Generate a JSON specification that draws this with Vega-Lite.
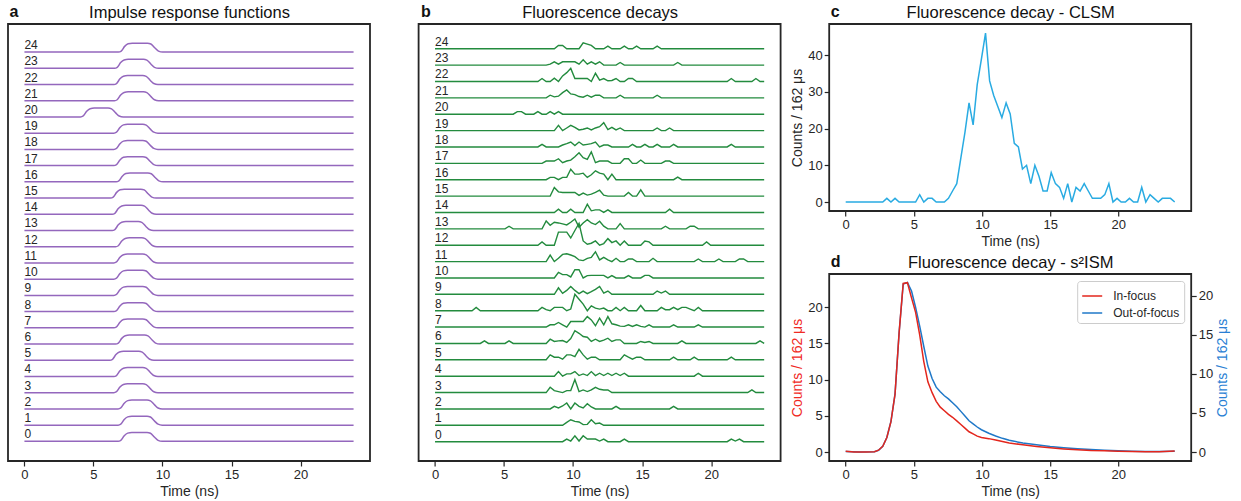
{
"$schema": "https://vega.github.io/schema/vega-lite/v6.json",
"padding": {"left": 7, "top": 3, "right": 5, "bottom": 5},
"config": {
  "font": "Liberation Sans",
  "view": {"stroke": "#262626", "strokeWidth": 1.8},
  "axis": {"grid": false, "domain": false, "tickColor": "#262626", "tickSize": 5, "tickWidth": 1.2, "labelColor": "#262626", "labelFontSize": 13, "labelPadding": 2, "titleColor": "#262626", "titleFontSize": 14, "titleFontWeight": "normal", "titlePadding": 3},
  "title": {"color": "#111111", "fontSize": 16, "fontWeight": "bold"},
  "legend": {"title": null, "orient": "top-right", "offset": 7, "padding": 4, "strokeColor": "#cccccc", "fillColor": "white", "cornerRadius": 3, "symbolType": "stroke", "symbolSize": 400, "symbolStrokeWidth": 1.5, "labelFontSize": 12, "labelColor": "#262626", "labelOffset": 10, "rowPadding": 0}
},
"datasets": {
"labels": [{"c":0,"t":0},{"c":1,"t":0},{"c":2,"t":0},{"c":3,"t":0},{"c":4,"t":0},{"c":5,"t":0},{"c":6,"t":0},{"c":7,"t":0},{"c":8,"t":0},{"c":9,"t":0},{"c":10,"t":0},{"c":11,"t":0},{"c":12,"t":0},{"c":13,"t":0},{"c":14,"t":0},{"c":15,"t":0},{"c":16,"t":0},{"c":17,"t":0},{"c":18,"t":0},{"c":19,"t":0},{"c":20,"t":0},{"c":21,"t":0},{"c":22,"t":0},{"c":23,"t":0},{"c":24,"t":0}],
"irf": [
{"c":24,"t":0,"y":24},{"c":24,"t":6.81,"y":24},{"c":24,"t":7.01,"y":24.06},{"c":24,"t":7.26,"y":24.35},{"c":24,"t":7.51,"y":24.51},{"c":24,"t":7.81,"y":24.55},{"c":24,"t":8.91,"y":24.55},{"c":24,"t":9.16,"y":24.5},{"c":24,"t":9.46,"y":24.25},{"c":24,"t":9.71,"y":24.06},{"c":24,"t":10.01,"y":24},{"c":24,"t":23.84,"y":24},
{"c":23,"t":0,"y":23},{"c":23,"t":6.52,"y":23},{"c":23,"t":6.72,"y":23.06},{"c":23,"t":6.97,"y":23.35},{"c":23,"t":7.22,"y":23.51},{"c":23,"t":7.52,"y":23.55},{"c":23,"t":8.62,"y":23.55},{"c":23,"t":8.87,"y":23.5},{"c":23,"t":9.17,"y":23.25},{"c":23,"t":9.42,"y":23.06},{"c":23,"t":9.72,"y":23},{"c":23,"t":23.84,"y":23},
{"c":22,"t":0,"y":22},{"c":22,"t":6.47,"y":22},{"c":22,"t":6.67,"y":22.06},{"c":22,"t":6.92,"y":22.35},{"c":22,"t":7.17,"y":22.51},{"c":22,"t":7.47,"y":22.55},{"c":22,"t":8.57,"y":22.55},{"c":22,"t":8.82,"y":22.5},{"c":22,"t":9.12,"y":22.25},{"c":22,"t":9.37,"y":22.06},{"c":22,"t":9.67,"y":22},{"c":22,"t":23.84,"y":22},
{"c":21,"t":0,"y":21},{"c":21,"t":6.52,"y":21},{"c":21,"t":6.72,"y":21.06},{"c":21,"t":6.97,"y":21.35},{"c":21,"t":7.22,"y":21.51},{"c":21,"t":7.52,"y":21.55},{"c":21,"t":8.62,"y":21.55},{"c":21,"t":8.87,"y":21.5},{"c":21,"t":9.17,"y":21.25},{"c":21,"t":9.42,"y":21.06},{"c":21,"t":9.72,"y":21},{"c":21,"t":23.84,"y":21},
{"c":20,"t":0,"y":20},{"c":20,"t":4.06,"y":20},{"c":20,"t":4.26,"y":20.06},{"c":20,"t":4.51,"y":20.35},{"c":20,"t":4.76,"y":20.51},{"c":20,"t":5.06,"y":20.55},{"c":20,"t":6.06,"y":20.55},{"c":20,"t":6.31,"y":20.5},{"c":20,"t":6.61,"y":20.25},{"c":20,"t":6.86,"y":20.06},{"c":20,"t":7.16,"y":20},{"c":20,"t":23.84,"y":20},
{"c":19,"t":0,"y":19},{"c":19,"t":6.47,"y":19},{"c":19,"t":6.67,"y":19.06},{"c":19,"t":6.92,"y":19.35},{"c":19,"t":7.17,"y":19.51},{"c":19,"t":7.47,"y":19.55},{"c":19,"t":8.57,"y":19.55},{"c":19,"t":8.82,"y":19.5},{"c":19,"t":9.12,"y":19.25},{"c":19,"t":9.37,"y":19.06},{"c":19,"t":9.67,"y":19},{"c":19,"t":23.84,"y":19},
{"c":18,"t":0,"y":18},{"c":18,"t":6.47,"y":18},{"c":18,"t":6.67,"y":18.06},{"c":18,"t":6.92,"y":18.35},{"c":18,"t":7.17,"y":18.51},{"c":18,"t":7.47,"y":18.55},{"c":18,"t":8.57,"y":18.55},{"c":18,"t":8.82,"y":18.5},{"c":18,"t":9.12,"y":18.25},{"c":18,"t":9.37,"y":18.06},{"c":18,"t":9.67,"y":18},{"c":18,"t":23.84,"y":18},
{"c":17,"t":0,"y":17},{"c":17,"t":6.47,"y":17},{"c":17,"t":6.67,"y":17.06},{"c":17,"t":6.92,"y":17.35},{"c":17,"t":7.17,"y":17.51},{"c":17,"t":7.47,"y":17.55},{"c":17,"t":8.57,"y":17.55},{"c":17,"t":8.82,"y":17.5},{"c":17,"t":9.12,"y":17.25},{"c":17,"t":9.37,"y":17.06},{"c":17,"t":9.67,"y":17},{"c":17,"t":23.84,"y":17},
{"c":16,"t":0,"y":16},{"c":16,"t":6.64,"y":16},{"c":16,"t":6.84,"y":16.06},{"c":16,"t":7.09,"y":16.35},{"c":16,"t":7.34,"y":16.51},{"c":16,"t":7.64,"y":16.55},{"c":16,"t":8.94,"y":16.55},{"c":16,"t":9.19,"y":16.5},{"c":16,"t":9.49,"y":16.25},{"c":16,"t":9.74,"y":16.06},{"c":16,"t":10.04,"y":16},{"c":16,"t":23.84,"y":16},
{"c":15,"t":0,"y":15},{"c":15,"t":6.23,"y":15},{"c":15,"t":6.43,"y":15.06},{"c":15,"t":6.68,"y":15.35},{"c":15,"t":6.93,"y":15.51},{"c":15,"t":7.23,"y":15.55},{"c":15,"t":8.43,"y":15.55},{"c":15,"t":8.68,"y":15.5},{"c":15,"t":8.98,"y":15.25},{"c":15,"t":9.23,"y":15.06},{"c":15,"t":9.53,"y":15},{"c":15,"t":23.84,"y":15},
{"c":14,"t":0,"y":14},{"c":14,"t":6.35,"y":14},{"c":14,"t":6.55,"y":14.06},{"c":14,"t":6.8,"y":14.35},{"c":14,"t":7.05,"y":14.51},{"c":14,"t":7.35,"y":14.55},{"c":14,"t":8.45,"y":14.55},{"c":14,"t":8.7,"y":14.5},{"c":14,"t":9.0,"y":14.25},{"c":14,"t":9.25,"y":14.06},{"c":14,"t":9.55,"y":14},{"c":14,"t":23.84,"y":14},
{"c":13,"t":0,"y":13},{"c":13,"t":6.35,"y":13},{"c":13,"t":6.55,"y":13.06},{"c":13,"t":6.8,"y":13.35},{"c":13,"t":7.05,"y":13.51},{"c":13,"t":7.35,"y":13.55},{"c":13,"t":8.25,"y":13.55},{"c":13,"t":8.5,"y":13.5},{"c":13,"t":8.8,"y":13.25},{"c":13,"t":9.05,"y":13.06},{"c":13,"t":9.35,"y":13},{"c":13,"t":23.84,"y":13},
{"c":12,"t":0,"y":12},{"c":12,"t":6.6,"y":12},{"c":12,"t":6.8,"y":12.06},{"c":12,"t":7.05,"y":12.35},{"c":12,"t":7.3,"y":12.51},{"c":12,"t":7.6,"y":12.55},{"c":12,"t":8.5,"y":12.55},{"c":12,"t":8.75,"y":12.5},{"c":12,"t":9.05,"y":12.25},{"c":12,"t":9.3,"y":12.06},{"c":12,"t":9.6,"y":12},{"c":12,"t":23.84,"y":12},
{"c":11,"t":0,"y":11},{"c":11,"t":6.47,"y":11},{"c":11,"t":6.67,"y":11.06},{"c":11,"t":6.92,"y":11.35},{"c":11,"t":7.17,"y":11.51},{"c":11,"t":7.47,"y":11.55},{"c":11,"t":8.57,"y":11.55},{"c":11,"t":8.82,"y":11.5},{"c":11,"t":9.12,"y":11.25},{"c":11,"t":9.37,"y":11.06},{"c":11,"t":9.67,"y":11},{"c":11,"t":23.84,"y":11},
{"c":10,"t":0,"y":10},{"c":10,"t":6.47,"y":10},{"c":10,"t":6.67,"y":10.06},{"c":10,"t":6.92,"y":10.35},{"c":10,"t":7.17,"y":10.51},{"c":10,"t":7.47,"y":10.55},{"c":10,"t":8.57,"y":10.55},{"c":10,"t":8.82,"y":10.5},{"c":10,"t":9.12,"y":10.25},{"c":10,"t":9.37,"y":10.06},{"c":10,"t":9.67,"y":10},{"c":10,"t":23.84,"y":10},
{"c":9,"t":0,"y":9},{"c":9,"t":6.47,"y":9},{"c":9,"t":6.67,"y":9.06},{"c":9,"t":6.92,"y":9.35},{"c":9,"t":7.17,"y":9.51},{"c":9,"t":7.47,"y":9.55},{"c":9,"t":8.57,"y":9.55},{"c":9,"t":8.82,"y":9.5},{"c":9,"t":9.12,"y":9.25},{"c":9,"t":9.37,"y":9.06},{"c":9,"t":9.67,"y":9},{"c":9,"t":23.84,"y":9},
{"c":8,"t":0,"y":8},{"c":8,"t":6.47,"y":8},{"c":8,"t":6.67,"y":8.06},{"c":8,"t":6.92,"y":8.35},{"c":8,"t":7.17,"y":8.51},{"c":8,"t":7.47,"y":8.55},{"c":8,"t":8.57,"y":8.55},{"c":8,"t":8.82,"y":8.5},{"c":8,"t":9.12,"y":8.25},{"c":8,"t":9.37,"y":8.06},{"c":8,"t":9.67,"y":8},{"c":8,"t":23.84,"y":8},
{"c":7,"t":0,"y":7},{"c":7,"t":6.47,"y":7},{"c":7,"t":6.67,"y":7.06},{"c":7,"t":6.92,"y":7.35},{"c":7,"t":7.17,"y":7.51},{"c":7,"t":7.47,"y":7.55},{"c":7,"t":8.57,"y":7.55},{"c":7,"t":8.82,"y":7.5},{"c":7,"t":9.12,"y":7.25},{"c":7,"t":9.37,"y":7.06},{"c":7,"t":9.67,"y":7},{"c":7,"t":23.84,"y":7},
{"c":6,"t":0,"y":6},{"c":6,"t":6.6,"y":6},{"c":6,"t":6.8,"y":6.06},{"c":6,"t":7.05,"y":6.35},{"c":6,"t":7.3,"y":6.51},{"c":6,"t":7.6,"y":6.55},{"c":6,"t":8.7,"y":6.55},{"c":6,"t":8.95,"y":6.5},{"c":6,"t":9.25,"y":6.25},{"c":6,"t":9.5,"y":6.06},{"c":6,"t":9.8,"y":6},{"c":6,"t":23.84,"y":6},
{"c":5,"t":0,"y":5},{"c":5,"t":6.18,"y":5},{"c":5,"t":6.38,"y":5.06},{"c":5,"t":6.63,"y":5.35},{"c":5,"t":6.88,"y":5.51},{"c":5,"t":7.18,"y":5.55},{"c":5,"t":8.28,"y":5.55},{"c":5,"t":8.53,"y":5.5},{"c":5,"t":8.83,"y":5.25},{"c":5,"t":9.08,"y":5.06},{"c":5,"t":9.38,"y":5},{"c":5,"t":23.84,"y":5},
{"c":4,"t":0,"y":4},{"c":4,"t":6.47,"y":4},{"c":4,"t":6.67,"y":4.06},{"c":4,"t":6.92,"y":4.35},{"c":4,"t":7.17,"y":4.51},{"c":4,"t":7.47,"y":4.55},{"c":4,"t":8.57,"y":4.55},{"c":4,"t":8.82,"y":4.5},{"c":4,"t":9.12,"y":4.25},{"c":4,"t":9.37,"y":4.06},{"c":4,"t":9.67,"y":4},{"c":4,"t":23.84,"y":4},
{"c":3,"t":0,"y":3},{"c":3,"t":6.47,"y":3},{"c":3,"t":6.67,"y":3.06},{"c":3,"t":6.92,"y":3.35},{"c":3,"t":7.17,"y":3.51},{"c":3,"t":7.47,"y":3.55},{"c":3,"t":8.57,"y":3.55},{"c":3,"t":8.82,"y":3.5},{"c":3,"t":9.12,"y":3.25},{"c":3,"t":9.37,"y":3.06},{"c":3,"t":9.67,"y":3},{"c":3,"t":23.84,"y":3},
{"c":2,"t":0,"y":2},{"c":2,"t":6.78,"y":2},{"c":2,"t":6.98,"y":2.06},{"c":2,"t":7.23,"y":2.35},{"c":2,"t":7.48,"y":2.51},{"c":2,"t":7.78,"y":2.55},{"c":2,"t":8.88,"y":2.55},{"c":2,"t":9.13,"y":2.5},{"c":2,"t":9.43,"y":2.25},{"c":2,"t":9.68,"y":2.06},{"c":2,"t":9.98,"y":2},{"c":2,"t":23.84,"y":2},
{"c":1,"t":0,"y":1},{"c":1,"t":6.78,"y":1},{"c":1,"t":6.98,"y":1.06},{"c":1,"t":7.23,"y":1.35},{"c":1,"t":7.48,"y":1.51},{"c":1,"t":7.78,"y":1.55},{"c":1,"t":8.88,"y":1.55},{"c":1,"t":9.13,"y":1.5},{"c":1,"t":9.43,"y":1.25},{"c":1,"t":9.68,"y":1.06},{"c":1,"t":9.98,"y":1},{"c":1,"t":23.84,"y":1},
{"c":0,"t":0,"y":0},{"c":0,"t":6.78,"y":0},{"c":0,"t":6.98,"y":0.06},{"c":0,"t":7.23,"y":0.35},{"c":0,"t":7.48,"y":0.51},{"c":0,"t":7.78,"y":0.55},{"c":0,"t":8.88,"y":0.55},{"c":0,"t":9.13,"y":0.5},{"c":0,"t":9.43,"y":0.25},{"c":0,"t":9.68,"y":0.06},{"c":0,"t":9.98,"y":0},{"c":0,"t":23.84,"y":0}
],
"decays": [
{"c":24,"t":0,"y":24},{"c":24,"t":8.64,"y":24},{"c":24,"t":8.94,"y":24.2},{"c":24,"t":9.24,"y":24.2},{"c":24,"t":9.54,"y":24},{"c":24,"t":10.43,"y":24},{"c":24,"t":10.73,"y":24.36},{"c":24,"t":11.03,"y":24.28},{"c":24,"t":11.32,"y":24.2},{"c":24,"t":11.62,"y":24},{"c":24,"t":12.22,"y":24},{"c":24,"t":12.52,"y":24.16},{"c":24,"t":12.81,"y":24},{"c":24,"t":13.41,"y":24},{"c":24,"t":13.71,"y":24.16},{"c":24,"t":14.01,"y":24},{"c":24,"t":14.3,"y":24},{"c":24,"t":14.6,"y":24.16},{"c":24,"t":14.9,"y":24},{"c":24,"t":15.79,"y":24},{"c":24,"t":16.09,"y":24.16},{"c":24,"t":16.39,"y":24},{"c":24,"t":23.84,"y":24},
{"c":23,"t":0,"y":23},{"c":23,"t":8.05,"y":23},{"c":23,"t":8.34,"y":23.06},{"c":23,"t":8.64,"y":23.2},{"c":23,"t":8.94,"y":23.06},{"c":23,"t":9.24,"y":23.2},{"c":23,"t":9.54,"y":23.2},{"c":23,"t":9.83,"y":23.2},{"c":23,"t":10.13,"y":23.2},{"c":23,"t":10.43,"y":23.06},{"c":23,"t":10.73,"y":23.32},{"c":23,"t":11.03,"y":23.06},{"c":23,"t":11.32,"y":23.2},{"c":23,"t":11.62,"y":23.06},{"c":23,"t":11.92,"y":23.2},{"c":23,"t":12.22,"y":23},{"c":23,"t":13.11,"y":23},{"c":23,"t":13.41,"y":23.16},{"c":23,"t":13.71,"y":23},{"c":23,"t":17.28,"y":23},{"c":23,"t":17.58,"y":23.16},{"c":23,"t":17.88,"y":23},{"c":23,"t":23.84,"y":23},
{"c":22,"t":0,"y":22},{"c":22,"t":7.45,"y":22},{"c":22,"t":7.75,"y":22.18},{"c":22,"t":8.05,"y":22},{"c":22,"t":8.34,"y":22},{"c":22,"t":8.64,"y":22.2},{"c":22,"t":8.94,"y":22},{"c":22,"t":9.24,"y":22.34},{"c":22,"t":9.54,"y":22.54},{"c":22,"t":9.83,"y":22.8},{"c":22,"t":10.13,"y":22.18},{"c":22,"t":10.43,"y":22.18},{"c":22,"t":10.73,"y":22.18},{"c":22,"t":11.03,"y":22.18},{"c":22,"t":11.32,"y":22},{"c":22,"t":11.62,"y":22.5},{"c":22,"t":11.92,"y":22.08},{"c":22,"t":12.22,"y":22.18},{"c":22,"t":12.52,"y":22.04},{"c":22,"t":12.81,"y":22.06},{"c":22,"t":13.11,"y":22.18},{"c":22,"t":13.41,"y":22},{"c":22,"t":13.71,"y":22},{"c":22,"t":14.01,"y":22.18},{"c":22,"t":14.3,"y":22.18},{"c":22,"t":14.6,"y":22},{"c":22,"t":21.16,"y":22},{"c":22,"t":21.46,"y":22.18},{"c":22,"t":21.75,"y":22},{"c":22,"t":22.95,"y":22},{"c":22,"t":23.24,"y":22.18},{"c":22,"t":23.54,"y":22},{"c":22,"t":23.84,"y":22},
{"c":21,"t":0,"y":21},{"c":21,"t":8.05,"y":21},{"c":21,"t":8.34,"y":21.16},{"c":21,"t":8.64,"y":21.06},{"c":21,"t":8.94,"y":21.1},{"c":21,"t":9.24,"y":21.32},{"c":21,"t":9.54,"y":21.48},{"c":21,"t":9.83,"y":21.24},{"c":21,"t":10.13,"y":21.2},{"c":21,"t":10.43,"y":21.08},{"c":21,"t":10.73,"y":21.04},{"c":21,"t":11.03,"y":21.16},{"c":21,"t":11.32,"y":21.04},{"c":21,"t":11.62,"y":21.16},{"c":21,"t":11.92,"y":21.16},{"c":21,"t":12.22,"y":21},{"c":21,"t":13.11,"y":21},{"c":21,"t":13.41,"y":21.16},{"c":21,"t":13.71,"y":21},{"c":21,"t":15.79,"y":21},{"c":21,"t":16.09,"y":21.16},{"c":21,"t":16.39,"y":21},{"c":21,"t":23.84,"y":21},
{"c":20,"t":0,"y":20},{"c":20,"t":5.66,"y":20},{"c":20,"t":5.96,"y":20.16},{"c":20,"t":6.26,"y":20.16},{"c":20,"t":6.56,"y":20},{"c":20,"t":7.15,"y":20},{"c":20,"t":7.45,"y":20.16},{"c":20,"t":7.75,"y":20},{"c":20,"t":8.05,"y":20},{"c":20,"t":8.34,"y":20.16},{"c":20,"t":8.64,"y":20},{"c":20,"t":8.94,"y":20.16},{"c":20,"t":9.24,"y":20},{"c":20,"t":23.84,"y":20},
{"c":19,"t":0,"y":19},{"c":19,"t":8.64,"y":19},{"c":19,"t":8.94,"y":19.32},{"c":19,"t":9.24,"y":19},{"c":19,"t":9.54,"y":19.16},{"c":19,"t":9.83,"y":19.32},{"c":19,"t":10.13,"y":19.2},{"c":19,"t":10.43,"y":19.04},{"c":19,"t":10.73,"y":19.08},{"c":19,"t":11.03,"y":19.16},{"c":19,"t":11.32,"y":19.04},{"c":19,"t":11.62,"y":19.16},{"c":19,"t":11.92,"y":19.24},{"c":19,"t":12.22,"y":19.48},{"c":19,"t":12.52,"y":19.06},{"c":19,"t":12.81,"y":19.2},{"c":19,"t":13.11,"y":19.04},{"c":19,"t":13.41,"y":19.16},{"c":19,"t":13.71,"y":19},{"c":19,"t":15.79,"y":19},{"c":19,"t":16.09,"y":19.16},{"c":19,"t":16.39,"y":19},{"c":19,"t":16.69,"y":19},{"c":19,"t":16.99,"y":19.16},{"c":19,"t":17.28,"y":19},{"c":19,"t":23.84,"y":19},
{"c":18,"t":0,"y":18},{"c":18,"t":7.45,"y":18},{"c":18,"t":7.75,"y":18.16},{"c":18,"t":8.05,"y":18},{"c":18,"t":8.94,"y":18},{"c":18,"t":9.24,"y":18.12},{"c":18,"t":9.54,"y":18.2},{"c":18,"t":9.83,"y":18.3},{"c":18,"t":10.13,"y":18.08},{"c":18,"t":10.43,"y":18.3},{"c":18,"t":10.73,"y":18.12},{"c":18,"t":11.03,"y":18.16},{"c":18,"t":11.32,"y":18.2},{"c":18,"t":11.62,"y":18.3},{"c":18,"t":11.92,"y":18},{"c":18,"t":12.22,"y":18.12},{"c":18,"t":12.52,"y":18.12},{"c":18,"t":12.81,"y":18},{"c":18,"t":14.01,"y":18},{"c":18,"t":14.3,"y":18.16},{"c":18,"t":14.6,"y":18},{"c":18,"t":14.9,"y":18},{"c":18,"t":15.2,"y":18.16},{"c":18,"t":15.5,"y":18},{"c":18,"t":15.79,"y":18},{"c":18,"t":16.09,"y":18.16},{"c":18,"t":16.39,"y":18},{"c":18,"t":16.99,"y":18},{"c":18,"t":17.28,"y":18.16},{"c":18,"t":17.58,"y":18},{"c":18,"t":21.16,"y":18},{"c":18,"t":21.46,"y":18.16},{"c":18,"t":21.75,"y":18},{"c":18,"t":23.84,"y":18},
{"c":17,"t":0,"y":17},{"c":17,"t":7.75,"y":17},{"c":17,"t":8.05,"y":17.14},{"c":17,"t":8.34,"y":17.14},{"c":17,"t":8.64,"y":17.14},{"c":17,"t":8.94,"y":17.28},{"c":17,"t":9.24,"y":17.04},{"c":17,"t":9.54,"y":17.14},{"c":17,"t":9.83,"y":17.2},{"c":17,"t":10.13,"y":17.4},{"c":17,"t":10.43,"y":17.64},{"c":17,"t":10.73,"y":17.34},{"c":17,"t":11.03,"y":17.24},{"c":17,"t":11.32,"y":17.7},{"c":17,"t":11.62,"y":17.04},{"c":17,"t":11.92,"y":17.14},{"c":17,"t":12.22,"y":17.14},{"c":17,"t":12.52,"y":17.14},{"c":17,"t":12.81,"y":17},{"c":17,"t":13.41,"y":17},{"c":17,"t":13.71,"y":17.28},{"c":17,"t":14.01,"y":17.28},{"c":17,"t":14.3,"y":17},{"c":17,"t":14.6,"y":17},{"c":17,"t":14.9,"y":17.2},{"c":17,"t":15.2,"y":17},{"c":17,"t":16.39,"y":17},{"c":17,"t":16.69,"y":17.14},{"c":17,"t":16.99,"y":17.14},{"c":17,"t":17.28,"y":17},{"c":17,"t":23.84,"y":17},
{"c":16,"t":0,"y":16},{"c":16,"t":8.05,"y":16},{"c":16,"t":8.34,"y":16.14},{"c":16,"t":8.64,"y":16.14},{"c":16,"t":8.94,"y":16},{"c":16,"t":9.24,"y":16.14},{"c":16,"t":9.54,"y":16.14},{"c":16,"t":9.83,"y":16.64},{"c":16,"t":10.13,"y":16.34},{"c":16,"t":10.43,"y":16.34},{"c":16,"t":10.73,"y":16.4},{"c":16,"t":11.03,"y":16.14},{"c":16,"t":11.32,"y":16.3},{"c":16,"t":11.62,"y":16.54},{"c":16,"t":11.92,"y":16.4},{"c":16,"t":12.22,"y":16.34},{"c":16,"t":12.52,"y":16},{"c":16,"t":12.81,"y":16.34},{"c":16,"t":13.11,"y":16},{"c":16,"t":17.28,"y":16},{"c":16,"t":17.58,"y":16.16},{"c":16,"t":17.88,"y":16},{"c":16,"t":23.84,"y":16},
{"c":15,"t":0,"y":15},{"c":15,"t":8.34,"y":15},{"c":15,"t":8.64,"y":15.52},{"c":15,"t":8.94,"y":15.26},{"c":15,"t":9.24,"y":15.22},{"c":15,"t":9.54,"y":15.22},{"c":15,"t":9.83,"y":15.22},{"c":15,"t":10.13,"y":15.22},{"c":15,"t":10.43,"y":15.04},{"c":15,"t":10.73,"y":15.18},{"c":15,"t":11.03,"y":15.06},{"c":15,"t":11.32,"y":15.12},{"c":15,"t":11.62,"y":15.22},{"c":15,"t":11.92,"y":15.36},{"c":15,"t":12.22,"y":15.06},{"c":15,"t":12.52,"y":15},{"c":15,"t":13.71,"y":15},{"c":15,"t":14.01,"y":15.22},{"c":15,"t":14.3,"y":15},{"c":15,"t":14.6,"y":15},{"c":15,"t":14.9,"y":15.38},{"c":15,"t":15.2,"y":15},{"c":15,"t":23.84,"y":15},
{"c":14,"t":0,"y":14},{"c":14,"t":8.64,"y":14},{"c":14,"t":8.94,"y":14.2},{"c":14,"t":9.24,"y":14},{"c":14,"t":9.54,"y":14},{"c":14,"t":9.83,"y":14.2},{"c":14,"t":10.13,"y":14},{"c":14,"t":10.73,"y":14},{"c":14,"t":11.03,"y":14.5},{"c":14,"t":11.32,"y":14.1},{"c":14,"t":11.62,"y":14.16},{"c":14,"t":11.92,"y":14.16},{"c":14,"t":12.22,"y":14},{"c":14,"t":12.52,"y":14.16},{"c":14,"t":12.81,"y":14},{"c":14,"t":16.69,"y":14},{"c":14,"t":16.99,"y":14.2},{"c":14,"t":17.28,"y":14},{"c":14,"t":23.84,"y":14},
{"c":13,"t":0,"y":13},{"c":13,"t":5.07,"y":13},{"c":13,"t":5.36,"y":13.16},{"c":13,"t":5.66,"y":13},{"c":13,"t":7.75,"y":13},{"c":13,"t":8.05,"y":13.48},{"c":13,"t":8.34,"y":13.22},{"c":13,"t":8.64,"y":13.4},{"c":13,"t":8.94,"y":13.36},{"c":13,"t":9.24,"y":13.3},{"c":13,"t":9.54,"y":13.24},{"c":13,"t":9.83,"y":13.4},{"c":13,"t":10.13,"y":13.6},{"c":13,"t":10.43,"y":13.1},{"c":13,"t":10.73,"y":13.36},{"c":13,"t":11.03,"y":13.56},{"c":13,"t":11.32,"y":13.36},{"c":13,"t":11.62,"y":13.26},{"c":13,"t":11.92,"y":13.46},{"c":13,"t":12.22,"y":13.16},{"c":13,"t":12.52,"y":13},{"c":13,"t":13.11,"y":13},{"c":13,"t":13.41,"y":13.32},{"c":13,"t":13.71,"y":13},{"c":13,"t":16.39,"y":13},{"c":13,"t":16.69,"y":13.16},{"c":13,"t":16.99,"y":13},{"c":13,"t":18.18,"y":13},{"c":13,"t":18.48,"y":13.16},{"c":13,"t":18.77,"y":13.16},{"c":13,"t":19.07,"y":13},{"c":13,"t":23.84,"y":13},
{"c":12,"t":0,"y":12},{"c":12,"t":7.45,"y":12},{"c":12,"t":7.75,"y":12.2},{"c":12,"t":8.05,"y":12},{"c":12,"t":8.64,"y":12},{"c":12,"t":8.94,"y":12.8},{"c":12,"t":9.24,"y":12.8},{"c":12,"t":9.54,"y":12.8},{"c":12,"t":9.83,"y":12.44},{"c":12,"t":10.13,"y":12.9},{"c":12,"t":10.43,"y":13.34},{"c":12,"t":10.73,"y":12.26},{"c":12,"t":11.03,"y":12.06},{"c":12,"t":11.32,"y":12.12},{"c":12,"t":11.62,"y":12.26},{"c":12,"t":11.92,"y":12},{"c":12,"t":12.22,"y":12.1},{"c":12,"t":12.52,"y":12.4},{"c":12,"t":12.81,"y":12.16},{"c":12,"t":13.11,"y":12.26},{"c":12,"t":13.41,"y":12},{"c":12,"t":13.71,"y":12.26},{"c":12,"t":14.01,"y":12},{"c":12,"t":14.9,"y":12},{"c":12,"t":15.2,"y":12.26},{"c":12,"t":15.5,"y":12.2},{"c":12,"t":15.79,"y":12},{"c":12,"t":19.37,"y":12},{"c":12,"t":19.67,"y":12.2},{"c":12,"t":19.97,"y":12},{"c":12,"t":23.84,"y":12},
{"c":11,"t":0,"y":11},{"c":11,"t":8.05,"y":11},{"c":11,"t":8.34,"y":11.4},{"c":11,"t":8.64,"y":11},{"c":11,"t":8.94,"y":11.2},{"c":11,"t":9.24,"y":11.44},{"c":11,"t":9.54,"y":11.48},{"c":11,"t":9.83,"y":11.4},{"c":11,"t":10.13,"y":11.3},{"c":11,"t":10.43,"y":11.1},{"c":11,"t":10.73,"y":11.06},{"c":11,"t":11.03,"y":11.2},{"c":11,"t":11.32,"y":11.26},{"c":11,"t":11.62,"y":11.6},{"c":11,"t":11.92,"y":11.1},{"c":11,"t":12.22,"y":11.26},{"c":11,"t":12.52,"y":11.1},{"c":11,"t":12.81,"y":11},{"c":11,"t":13.11,"y":11.2},{"c":11,"t":13.41,"y":11},{"c":11,"t":13.71,"y":11},{"c":11,"t":14.01,"y":11.16},{"c":11,"t":14.3,"y":11.16},{"c":11,"t":14.6,"y":11},{"c":11,"t":15.5,"y":11},{"c":11,"t":15.79,"y":11.2},{"c":11,"t":16.09,"y":11},{"c":11,"t":18.77,"y":11},{"c":11,"t":19.07,"y":11.16},{"c":11,"t":19.37,"y":11},{"c":11,"t":20.26,"y":11},{"c":11,"t":20.56,"y":11.16},{"c":11,"t":20.86,"y":11},{"c":11,"t":21.75,"y":11},{"c":11,"t":22.05,"y":11.16},{"c":11,"t":22.35,"y":11.16},{"c":11,"t":22.65,"y":11},{"c":11,"t":23.84,"y":11},
{"c":10,"t":0,"y":10},{"c":10,"t":8.64,"y":10},{"c":10,"t":8.94,"y":10.34},{"c":10,"t":9.24,"y":10.2},{"c":10,"t":9.54,"y":10.2},{"c":10,"t":9.83,"y":10.06},{"c":10,"t":10.13,"y":10.5},{"c":10,"t":10.43,"y":10.5},{"c":10,"t":10.73,"y":10},{"c":10,"t":11.03,"y":10.14},{"c":10,"t":11.32,"y":10.16},{"c":10,"t":11.62,"y":10.16},{"c":10,"t":11.92,"y":10.16},{"c":10,"t":12.22,"y":10.16},{"c":10,"t":12.52,"y":10},{"c":10,"t":12.81,"y":10.14},{"c":10,"t":13.11,"y":10},{"c":10,"t":13.71,"y":10},{"c":10,"t":14.01,"y":10.14},{"c":10,"t":14.3,"y":10},{"c":10,"t":14.9,"y":10},{"c":10,"t":15.2,"y":10.16},{"c":10,"t":15.5,"y":10.16},{"c":10,"t":15.79,"y":10},{"c":10,"t":23.84,"y":10},
{"c":9,"t":0,"y":9},{"c":9,"t":8.64,"y":9},{"c":9,"t":8.94,"y":9.4},{"c":9,"t":9.24,"y":9.06},{"c":9,"t":9.54,"y":9.24},{"c":9,"t":9.83,"y":9.48},{"c":9,"t":10.13,"y":9.24},{"c":9,"t":10.43,"y":9.04},{"c":9,"t":10.73,"y":9.2},{"c":9,"t":11.03,"y":9.04},{"c":9,"t":11.32,"y":9.16},{"c":9,"t":11.62,"y":9.3},{"c":9,"t":11.92,"y":9.48},{"c":9,"t":12.22,"y":9.08},{"c":9,"t":12.52,"y":9.2},{"c":9,"t":12.81,"y":9},{"c":9,"t":15.79,"y":9},{"c":9,"t":16.09,"y":9.2},{"c":9,"t":16.39,"y":9.08},{"c":9,"t":16.69,"y":9.2},{"c":9,"t":16.99,"y":9},{"c":9,"t":23.84,"y":9},
{"c":8,"t":0,"y":8},{"c":8,"t":2.68,"y":8},{"c":8,"t":2.98,"y":8.2},{"c":8,"t":3.28,"y":8},{"c":8,"t":7.45,"y":8},{"c":8,"t":7.75,"y":8.2},{"c":8,"t":8.05,"y":8.06},{"c":8,"t":8.34,"y":8},{"c":8,"t":8.64,"y":8.2},{"c":8,"t":8.94,"y":8.2},{"c":8,"t":9.24,"y":8.2},{"c":8,"t":9.54,"y":8},{"c":8,"t":9.83,"y":8.1},{"c":8,"t":10.13,"y":9},{"c":8,"t":10.43,"y":8.7},{"c":8,"t":10.73,"y":8.4},{"c":8,"t":11.03,"y":8},{"c":8,"t":11.32,"y":8.3},{"c":8,"t":11.62,"y":8.16},{"c":8,"t":11.92,"y":8.1},{"c":8,"t":12.22,"y":8.16},{"c":8,"t":12.52,"y":8},{"c":8,"t":12.81,"y":8},{"c":8,"t":13.11,"y":8.2},{"c":8,"t":13.41,"y":8},{"c":8,"t":13.71,"y":8.2},{"c":8,"t":14.01,"y":8},{"c":8,"t":14.6,"y":8},{"c":8,"t":14.9,"y":8.32},{"c":8,"t":15.2,"y":8},{"c":8,"t":16.09,"y":8},{"c":8,"t":16.39,"y":8.2},{"c":8,"t":16.69,"y":8.06},{"c":8,"t":16.99,"y":8.06},{"c":8,"t":17.28,"y":8.2},{"c":8,"t":17.58,"y":8.06},{"c":8,"t":17.88,"y":8.2},{"c":8,"t":18.18,"y":8.2},{"c":8,"t":18.48,"y":8.1},{"c":8,"t":18.77,"y":8},{"c":8,"t":19.07,"y":8.2},{"c":8,"t":19.37,"y":8},{"c":8,"t":23.84,"y":8},
{"c":7,"t":0,"y":7},{"c":7,"t":8.05,"y":7},{"c":7,"t":8.34,"y":7.14},{"c":7,"t":8.64,"y":7.14},{"c":7,"t":8.94,"y":7.28},{"c":7,"t":9.24,"y":7.14},{"c":7,"t":9.54,"y":7},{"c":7,"t":9.83,"y":7.34},{"c":7,"t":10.13,"y":7.34},{"c":7,"t":10.43,"y":7.34},{"c":7,"t":10.73,"y":7.34},{"c":7,"t":11.03,"y":7.64},{"c":7,"t":11.32,"y":7.44},{"c":7,"t":11.62,"y":7.08},{"c":7,"t":11.92,"y":7.54},{"c":7,"t":12.22,"y":7.14},{"c":7,"t":12.52,"y":7.64},{"c":7,"t":12.81,"y":7.2},{"c":7,"t":13.11,"y":7.14},{"c":7,"t":13.41,"y":7.06},{"c":7,"t":13.71,"y":7.04},{"c":7,"t":14.01,"y":7.14},{"c":7,"t":14.3,"y":7.04},{"c":7,"t":14.6,"y":7.14},{"c":7,"t":14.9,"y":7.04},{"c":7,"t":15.2,"y":7},{"c":7,"t":15.5,"y":7.14},{"c":7,"t":15.79,"y":7},{"c":7,"t":16.99,"y":7},{"c":7,"t":17.28,"y":7.14},{"c":7,"t":17.58,"y":7},{"c":7,"t":18.77,"y":7},{"c":7,"t":19.07,"y":7.14},{"c":7,"t":19.37,"y":7},{"c":7,"t":23.84,"y":7},
{"c":6,"t":0,"y":6},{"c":6,"t":3.28,"y":6},{"c":6,"t":3.58,"y":6.16},{"c":6,"t":3.87,"y":6},{"c":6,"t":5.07,"y":6},{"c":6,"t":5.36,"y":6.16},{"c":6,"t":5.66,"y":6},{"c":6,"t":8.05,"y":6},{"c":6,"t":8.34,"y":6.26},{"c":6,"t":8.64,"y":6.12},{"c":6,"t":8.94,"y":6.16},{"c":6,"t":9.24,"y":6.18},{"c":6,"t":9.54,"y":6.06},{"c":6,"t":9.83,"y":6.3},{"c":6,"t":10.13,"y":6.78},{"c":6,"t":10.43,"y":6.62},{"c":6,"t":10.73,"y":6.42},{"c":6,"t":11.03,"y":6.38},{"c":6,"t":11.32,"y":6.12},{"c":6,"t":11.62,"y":6.26},{"c":6,"t":11.92,"y":6.12},{"c":6,"t":12.22,"y":6.2},{"c":6,"t":12.52,"y":6.32},{"c":6,"t":12.81,"y":6.12},{"c":6,"t":13.11,"y":6.22},{"c":6,"t":13.41,"y":6.22},{"c":6,"t":13.71,"y":6},{"c":6,"t":14.6,"y":6},{"c":6,"t":14.9,"y":6.12},{"c":6,"t":15.2,"y":6.06},{"c":6,"t":15.5,"y":6.12},{"c":6,"t":15.79,"y":6},{"c":6,"t":17.58,"y":6},{"c":6,"t":17.88,"y":6.16},{"c":6,"t":18.18,"y":6},{"c":6,"t":23.24,"y":6},{"c":6,"t":23.54,"y":6.16},{"c":6,"t":23.84,"y":6},
{"c":5,"t":0,"y":5},{"c":5,"t":8.05,"y":5},{"c":5,"t":8.34,"y":5.3},{"c":5,"t":8.64,"y":5.16},{"c":5,"t":8.94,"y":5.16},{"c":5,"t":9.24,"y":5.04},{"c":5,"t":9.54,"y":5.3},{"c":5,"t":9.83,"y":5.3},{"c":5,"t":10.13,"y":5.2},{"c":5,"t":10.43,"y":5.64},{"c":5,"t":10.73,"y":5.3},{"c":5,"t":11.03,"y":5.04},{"c":5,"t":11.32,"y":5.16},{"c":5,"t":11.62,"y":5.16},{"c":5,"t":11.92,"y":5},{"c":5,"t":13.41,"y":5},{"c":5,"t":13.71,"y":5.3},{"c":5,"t":14.01,"y":5.16},{"c":5,"t":14.3,"y":5.04},{"c":5,"t":14.6,"y":5.16},{"c":5,"t":14.9,"y":5.16},{"c":5,"t":15.2,"y":5},{"c":5,"t":16.99,"y":5},{"c":5,"t":17.28,"y":5.16},{"c":5,"t":17.58,"y":5},{"c":5,"t":18.48,"y":5},{"c":5,"t":18.77,"y":5.16},{"c":5,"t":19.07,"y":5},{"c":5,"t":21.16,"y":5},{"c":5,"t":21.46,"y":5.16},{"c":5,"t":21.75,"y":5},{"c":5,"t":23.84,"y":5},
{"c":4,"t":0,"y":4},{"c":4,"t":8.64,"y":4},{"c":4,"t":8.94,"y":4.28},{"c":4,"t":9.24,"y":4},{"c":4,"t":9.54,"y":4.14},{"c":4,"t":9.83,"y":4.14},{"c":4,"t":10.13,"y":4.28},{"c":4,"t":10.43,"y":4.04},{"c":4,"t":10.73,"y":4.14},{"c":4,"t":11.03,"y":4.04},{"c":4,"t":11.32,"y":4.28},{"c":4,"t":11.62,"y":4.04},{"c":4,"t":11.92,"y":4.18},{"c":4,"t":12.22,"y":4.04},{"c":4,"t":12.52,"y":4.18},{"c":4,"t":12.81,"y":4.04},{"c":4,"t":13.11,"y":4.18},{"c":4,"t":13.41,"y":4.04},{"c":4,"t":13.71,"y":4.18},{"c":4,"t":14.01,"y":4},{"c":4,"t":18.77,"y":4},{"c":4,"t":19.07,"y":4.18},{"c":4,"t":19.37,"y":4},{"c":4,"t":23.84,"y":4},
{"c":3,"t":0,"y":3},{"c":3,"t":8.05,"y":3},{"c":3,"t":8.34,"y":3.32},{"c":3,"t":8.64,"y":3.12},{"c":3,"t":8.94,"y":3.06},{"c":3,"t":9.24,"y":3},{"c":3,"t":9.54,"y":3.12},{"c":3,"t":9.83,"y":3.12},{"c":3,"t":10.13,"y":3.8},{"c":3,"t":10.43,"y":3.06},{"c":3,"t":10.73,"y":3.16},{"c":3,"t":11.03,"y":3.06},{"c":3,"t":11.32,"y":3.16},{"c":3,"t":11.62,"y":3.32},{"c":3,"t":11.92,"y":3.2},{"c":3,"t":12.22,"y":3.16},{"c":3,"t":12.52,"y":3.16},{"c":3,"t":12.81,"y":3},{"c":3,"t":22.65,"y":3},{"c":3,"t":22.95,"y":3.16},{"c":3,"t":23.24,"y":3},{"c":3,"t":23.84,"y":3},
{"c":2,"t":0,"y":2},{"c":2,"t":8.34,"y":2},{"c":2,"t":8.64,"y":2.16},{"c":2,"t":8.94,"y":2.06},{"c":2,"t":9.24,"y":2.18},{"c":2,"t":9.54,"y":2.36},{"c":2,"t":9.83,"y":2},{"c":2,"t":10.13,"y":2.36},{"c":2,"t":10.43,"y":2.16},{"c":2,"t":10.73,"y":2.06},{"c":2,"t":11.03,"y":2.32},{"c":2,"t":11.32,"y":2.12},{"c":2,"t":11.62,"y":2},{"c":2,"t":12.81,"y":2},{"c":2,"t":13.11,"y":2.16},{"c":2,"t":13.41,"y":2},{"c":2,"t":16.99,"y":2},{"c":2,"t":17.28,"y":2.16},{"c":2,"t":17.58,"y":2},{"c":2,"t":23.84,"y":2},
{"c":1,"t":0,"y":1},{"c":1,"t":9.24,"y":1},{"c":1,"t":9.54,"y":1.18},{"c":1,"t":9.83,"y":1.34},{"c":1,"t":10.13,"y":1.24},{"c":1,"t":10.43,"y":1.2},{"c":1,"t":10.73,"y":1.04},{"c":1,"t":11.03,"y":1.06},{"c":1,"t":11.32,"y":1.34},{"c":1,"t":11.62,"y":1.1},{"c":1,"t":11.92,"y":1.14},{"c":1,"t":12.22,"y":1},{"c":1,"t":23.84,"y":1},
{"c":0,"t":0,"y":0},{"c":0,"t":9.24,"y":0},{"c":0,"t":9.54,"y":0.16},{"c":0,"t":9.83,"y":0.04},{"c":0,"t":10.13,"y":0.36},{"c":0,"t":10.43,"y":0.04},{"c":0,"t":10.73,"y":0.36},{"c":0,"t":11.03,"y":0.16},{"c":0,"t":11.32,"y":0.16},{"c":0,"t":11.62,"y":0.16},{"c":0,"t":11.92,"y":0.04},{"c":0,"t":12.22,"y":0.16},{"c":0,"t":12.52,"y":0},{"c":0,"t":13.41,"y":0},{"c":0,"t":13.71,"y":0.16},{"c":0,"t":14.01,"y":0},{"c":0,"t":21.16,"y":0},{"c":0,"t":21.46,"y":0.16},{"c":0,"t":21.75,"y":0.04},{"c":0,"t":22.05,"y":0.16},{"c":0,"t":22.35,"y":0},{"c":0,"t":23.84,"y":0}
],
"clsm": [
{"t":0,"v":0},{"t":2.72,"v":0},{"t":3.02,"v":1},{"t":3.32,"v":0},{"t":3.62,"v":1},{"t":3.92,"v":0},{"t":5.13,"v":0},{"t":5.43,"v":2},{"t":5.73,"v":0},{"t":6.03,"v":1},{"t":6.34,"v":1},{"t":6.64,"v":0},{"t":7.24,"v":0},{"t":7.54,"v":1},{"t":7.84,"v":3},{"t":8.15,"v":5},{"t":8.45,"v":12},{"t":8.75,"v":19},{"t":9.05,"v":27},{"t":9.35,"v":21},{"t":9.65,"v":32},{"t":9.96,"v":39},{"t":10.26,"v":46},{"t":10.56,"v":33},{"t":10.86,"v":29},{"t":11.16,"v":26},{"t":11.46,"v":23},{"t":11.77,"v":27},{"t":12.07,"v":24},{"t":12.37,"v":16},{"t":12.67,"v":15},{"t":12.97,"v":9},{"t":13.27,"v":10},{"t":13.58,"v":5},{"t":13.88,"v":10},{"t":14.18,"v":7},{"t":14.48,"v":3},{"t":14.78,"v":3},{"t":15.08,"v":8},{"t":15.39,"v":5},{"t":15.69,"v":4},{"t":15.99,"v":1},{"t":16.29,"v":5},{"t":16.59,"v":0},{"t":16.9,"v":4},{"t":17.2,"v":3},{"t":17.5,"v":5},{"t":17.8,"v":3},{"t":18.1,"v":1},{"t":18.4,"v":1},{"t":18.71,"v":1},{"t":19.01,"v":2},{"t":19.31,"v":5},{"t":19.61,"v":0},{"t":19.91,"v":1},{"t":20.21,"v":0},{"t":20.52,"v":0},{"t":20.82,"v":1},{"t":21.12,"v":0},{"t":21.42,"v":0},{"t":21.72,"v":4},{"t":22.02,"v":0},{"t":22.33,"v":2},{"t":22.63,"v":1},{"t":22.93,"v":0},{"t":23.23,"v":1},{"t":23.53,"v":1},{"t":23.83,"v":1},{"t":24.14,"v":0}
],
"infocus": [
{"t":0,"v":0.1},{"t":0.6,"v":0.02},{"t":1.5,"v":0},{"t":2.11,"v":0.05},{"t":2.41,"v":0.25},{"t":2.72,"v":0.8},{"t":3.02,"v":2.0},{"t":3.32,"v":4.2},{"t":3.62,"v":8.0},{"t":3.92,"v":16.5},{"t":4.22,"v":23.3},{"t":4.53,"v":23.4},{"t":4.83,"v":21.3},{"t":5.13,"v":19.3},{"t":5.43,"v":16.2},{"t":5.73,"v":12.5},{"t":6.03,"v":9.7},{"t":6.34,"v":8.2},{"t":6.64,"v":7.0},{"t":6.94,"v":6.2},{"t":7.24,"v":5.7},{"t":7.54,"v":5.2},{"t":7.84,"v":4.8},{"t":8.15,"v":4.3},{"t":8.45,"v":3.8},{"t":8.75,"v":3.3},{"t":9.05,"v":2.8},{"t":9.35,"v":2.5},{"t":9.65,"v":2.2},{"t":9.96,"v":2.0},{"t":10.5,"v":1.85},{"t":11,"v":1.65},{"t":11.5,"v":1.45},{"t":12,"v":1.25},{"t":13,"v":1.0},{"t":14,"v":0.78},{"t":15,"v":0.58},{"t":16,"v":0.42},{"t":17,"v":0.3},{"t":18,"v":0.2},{"t":19,"v":0.16},{"t":20,"v":0.12},{"t":21,"v":0.07},{"t":22,"v":0.04},{"t":23,"v":0.05},{"t":24.14,"v":0.15}
],
"outfocus": [
{"t":0,"v":0.05},{"t":1,"v":0},{"t":2.11,"v":0.04},{"t":2.41,"v":0.22},{"t":2.72,"v":0.74},{"t":3.02,"v":1.85},{"t":3.32,"v":3.9},{"t":3.62,"v":7.4},{"t":3.92,"v":15.3},{"t":4.22,"v":21.5},{"t":4.53,"v":21.7},{"t":4.83,"v":20.6},{"t":5.13,"v":18.5},{"t":5.43,"v":16.1},{"t":5.73,"v":13.5},{"t":6.03,"v":11.0},{"t":6.34,"v":9.4},{"t":6.64,"v":8.3},{"t":6.94,"v":7.7},{"t":7.24,"v":7.2},{"t":7.54,"v":6.8},{"t":7.84,"v":6.3},{"t":8.15,"v":5.8},{"t":8.45,"v":5.2},{"t":8.75,"v":4.6},{"t":9.05,"v":4.0},{"t":9.35,"v":3.6},{"t":9.65,"v":3.2},{"t":9.96,"v":2.85},{"t":10.5,"v":2.4},{"t":11,"v":2.05},{"t":11.5,"v":1.75},{"t":12,"v":1.5},{"t":13,"v":1.15},{"t":14,"v":0.92},{"t":15,"v":0.72},{"t":16,"v":0.56},{"t":17,"v":0.43},{"t":18,"v":0.32},{"t":19,"v":0.23},{"t":20,"v":0.17},{"t":21,"v":0.1},{"t":22,"v":0.05},{"t":23,"v":0.05},{"t":24.14,"v":0.1}
]
},
"hconcat": [
{
 "width": 362, "height": 437,
 "title": {"text": "a", "anchor": "start", "frame": "group", "baseline": "alphabetic", "offset": 0, "dy": 29, "dx": 1.5},
 "layer": [
  {"data": {"name": "irf"}, "mark": {"type": "line", "color": "#9467bd", "strokeWidth": 1.5, "interpolate": "monotone"},
   "encoding": {
    "x": {"field": "t", "type": "quantitative", "scale": {"domain": [-1.19, 25.03], "nice": false, "zero": false}, "axis": {"values": [0,5,10,15,20], "format": "d", "title": "Time (ns)"}},
    "y": {"field": "y", "type": "quantitative", "scale": {"domain": [-1.21, 25.73], "nice": false, "zero": false}, "axis": null},
    "detail": {"field": "c", "type": "nominal"}}},
  {"data": {"name": "labels"}, "mark": {"type": "text", "align": "left", "baseline": "alphabetic", "dy": -3, "fontSize": 12, "color": "#262626"},
   "encoding": {
    "x": {"field": "t", "type": "quantitative", "scale": {"domain": [-1.19, 25.03], "nice": false, "zero": false}, "axis": {"orient": "top", "title": "Impulse response functions", "labels": false, "ticks": false, "domain": false, "titleFontSize": 16.5, "titleFontWeight": "normal", "titleColor": "#111111", "titleX": 181, "titleY": -7, "titleAlign": "center", "titleBaseline": "alphabetic", "titleAngle": 0}},
    "y": {"field": "c", "type": "quantitative", "scale": {"domain": [-1.21, 25.73], "nice": false, "zero": false}, "axis": null},
    "text": {"field": "c", "type": "nominal"}}}
 ],
 "resolve": {"axis": {"x": "independent"}}
},
{
 "width": 362, "height": 437,
 "title": {"text": "b", "anchor": "start", "frame": "group", "baseline": "alphabetic", "offset": 0, "dy": 29, "dx": 2.5},
 "layer": [
  {"data": {"name": "decays"}, "mark": {"type": "line", "color": "#238b3e", "strokeWidth": 1.4},
   "encoding": {
    "x": {"field": "t", "type": "quantitative", "scale": {"domain": [-1.19, 25.03], "nice": false, "zero": false}, "axis": {"values": [0,5,10,15,20], "format": "d", "title": "Time (ns)"}},
    "y": {"field": "y", "type": "quantitative", "scale": {"domain": [-1.18, 25.51], "nice": false, "zero": false}, "axis": null},
    "detail": {"field": "c", "type": "nominal"}}},
  {"data": {"name": "labels"}, "mark": {"type": "text", "align": "left", "baseline": "alphabetic", "dy": -3, "fontSize": 12, "color": "#262626"},
   "encoding": {
    "x": {"field": "t", "type": "quantitative", "scale": {"domain": [-1.19, 25.03], "nice": false, "zero": false}, "axis": {"orient": "top", "title": "Fluorescence decays", "labels": false, "ticks": false, "domain": false, "titleFontSize": 16.5, "titleFontWeight": "normal", "titleColor": "#111111", "titleX": 181, "titleY": -7, "titleAlign": "center", "titleBaseline": "alphabetic", "titleAngle": 0}},
    "y": {"field": "c", "type": "quantitative", "scale": {"domain": [-1.18, 25.51], "nice": false, "zero": false}, "axis": null},
    "text": {"field": "c", "type": "nominal"}}}
 ],
 "resolve": {"axis": {"x": "independent"}}
},
{
 "vconcat": [
  {
   "width": 362, "height": 187,
   "title": {"text": "c", "anchor": "start", "frame": "group", "baseline": "alphabetic", "offset": 0, "dy": 29, "dx": 1.5},
   "layer": [
    {"data": {"name": "clsm"}, "mark": {"type": "line", "color": "#29abe2", "strokeWidth": 1.5},
     "encoding": {
      "x": {"field": "t", "type": "quantitative", "scale": {"domain": [-1.21, 25.35], "nice": false, "zero": false}, "axis": {"values": [0,5,10,15,20], "format": "d", "title": "Time (ns)"}},
      "y": {"field": "v", "type": "quantitative", "scale": {"domain": [-2.45, 48.5], "nice": false, "zero": false}, "axis": {"values": [0,10,20,30,40], "format": "d", "title": "Counts / 162 μs"}}}},
    {"data": {"values": [{"t": 0}]}, "mark": {"type": "rule", "opacity": 0},
     "encoding": {
      "x": {"field": "t", "type": "quantitative", "scale": {"domain": [-1.21, 25.35], "nice": false, "zero": false}, "axis": {"orient": "top", "title": "Fluorescence decay - CLSM", "labels": false, "ticks": false, "domain": false, "titleFontSize": 16.5, "titleFontWeight": "normal", "titleColor": "#111111", "titleX": 181, "titleY": -7, "titleAlign": "center", "titleBaseline": "alphabetic", "titleAngle": 0}}}}
   ],
   "resolve": {"axis": {"x": "independent"}}
  },
  {
   "width": 362, "height": 187,
   "title": {"text": "d", "anchor": "start", "frame": "group", "baseline": "alphabetic", "offset": 0, "dy": 29, "dx": 1.5},
   "layer": [
    {"data": {"name": "outfocus"}, "mark": {"type": "line", "strokeWidth": 1.5},
     "encoding": {
      "x": {"field": "t", "type": "quantitative", "scale": {"domain": [-1.21, 25.35], "nice": false, "zero": false}, "axis": null},
      "y": {"field": "v", "type": "quantitative", "scale": {"domain": [-1.15, 22.78], "nice": false, "zero": false}, "axis": {"orient": "right", "values": [0,5,10,15,20], "format": "d", "title": "Counts / 162 μs", "titleColor": "#2a7fd4", "titleAngle": 270, "titleBaseline": "top"}},
      "color": {"datum": "Out-of-focus", "type": "nominal", "scale": {"domain": ["In-focus", "Out-of-focus"], "range": ["#e3261d", "#1f78c8"]}, "legend": {"orient": "top-right", "offset": 7}}}},
    {"data": {"name": "infocus"}, "mark": {"type": "line", "strokeWidth": 1.5},
     "encoding": {
      "x": {"field": "t", "type": "quantitative", "scale": {"domain": [-1.21, 25.35], "nice": false, "zero": false}, "axis": {"values": [0,5,10,15,20], "format": "d", "title": "Time (ns)"}},
      "y": {"field": "v", "type": "quantitative", "scale": {"domain": [-1.24, 24.6], "nice": false, "zero": false}, "axis": {"values": [0,5,10,15,20], "format": "d", "title": "Counts / 162 μs", "titleColor": "#f02a24"}},
      "color": {"datum": "In-focus", "type": "nominal", "scale": {"domain": ["In-focus", "Out-of-focus"], "range": ["#e3261d", "#1f78c8"]}, "legend": {"orient": "top-right", "offset": 7}}}},
    {"data": {"values": [{"t": 0}]}, "mark": {"type": "rule", "opacity": 0},
     "encoding": {
      "x": {"field": "t", "type": "quantitative", "scale": {"domain": [-1.21, 25.35], "nice": false, "zero": false}, "axis": {"orient": "top", "title": "Fluorescence decay - s²ISM", "labels": false, "ticks": false, "domain": false, "titleFontSize": 16.5, "titleFontWeight": "normal", "titleColor": "#111111", "titleX": 181, "titleY": -7, "titleAlign": "center", "titleBaseline": "alphabetic", "titleAngle": 0}}}}
   ],
   "resolve": {"scale": {"y": "independent"}, "axis": {"x": "independent"}}
  }
 ],
 "spacing": 63,
 "bounds": "flush",
 "resolve": {"scale": {"color": "independent"}, "legend": {"color": "independent"}}
}
],
"spacing": 48.6,
"bounds": "flush",
"resolve": {"scale": {"color": "independent"}, "legend": {"color": "independent"}}
}
